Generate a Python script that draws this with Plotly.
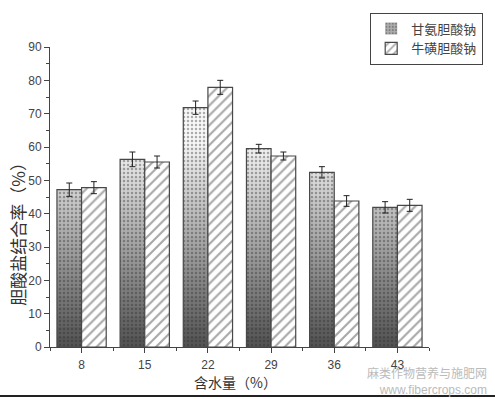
import plotly.graph_objects as go

categories = ["8", "15", "22", "29", "36", "43"]
series_names = ["甘氨胆酸钠", "牛磺胆酸钠"]
glycocholate = [47.2, 56.3, 71.8, 59.5, 52.4, 41.9]
glycocholate_err = [2.0, 2.2, 2.0, 1.3, 1.7, 1.7]
taurocholate = [47.8, 55.5, 77.9, 57.3, 43.8, 42.5]
taurocholate_err = [1.8, 1.8, 2.1, 1.2, 1.6, 1.8]
y_ticks = [0, 10, 20, 30, 40, 50, 60, 70, 80, 90]

xpos = list(range(len(categories)))
W = 0.39
fig = go.Figure()

# gradient bands for series 1 (dark bottom -> light top), dotted pattern
band = 3
nb = 30
def band_color(v):
    t = min(max(v / 62.0, 0), 1)
    c = int(80 + t * (248 - 80))
    return f"rgb({c},{c},{c})"

legend_band = 11
for k in range(nb):
    lo, hi = k * band, (k + 1) * band
    hs = [max(0.0, min(v, hi) - lo) for v in glycocholate]
    if max(hs) <= 0:
        continue
    col = band_color(lo + band / 2)
    fig.add_trace(go.Bar(
        x=xpos, y=hs, base=[lo] * len(hs), width=W, offset=-W,
        marker=dict(color=col, line=dict(width=0),
                    pattern=dict(shape=".", bgcolor=col, fgcolor="rgba(45,45,45,0.75)",
                                 size=4, solidity=0.3)),
        name=series_names[0], showlegend=(k == legend_band), hoverinfo="skip",
    ))

# outline + error bars series 1
fig.add_trace(go.Bar(
    x=xpos, y=glycocholate, width=W, offset=-W,
    marker=dict(color="rgba(0,0,0,0)", line=dict(color="#484848", width=1.2)),
    error_y=dict(type="data", array=glycocholate_err, color="#222", thickness=1, width=3),
    showlegend=False,
))

# series 2 hatched
fig.add_trace(go.Bar(
    x=xpos, y=taurocholate, width=W, offset=0,
    name=series_names[1],
    marker=dict(color="white", line=dict(color="#484848", width=1.2),
                pattern=dict(shape="/", bgcolor="white", fgcolor="#505050", size=7, solidity=0.3)),
    error_y=dict(type="data", array=taurocholate_err, color="#222", thickness=1, width=3),
))

tickfont = dict(family="Liberation Sans, Arial", size=12, color="#444")
fig.update_layout(
    width=495, height=399,
    margin=dict(l=50, r=63, t=42, b=52),
    paper_bgcolor="white", plot_bgcolor="white",
    barmode="overlay",
    showlegend=True,
    legend=dict(x=1.143, xanchor="right", y=1.115, yanchor="top",
                bordercolor="#444", borderwidth=1, bgcolor="white",
                font=dict(family="Noto Sans CJK SC", size=13, color="#444"),
                tracegroupgap=0, itemwidth=30, traceorder="normal"),
    xaxis=dict(range=[-0.5, len(categories) - 0.5], tickvals=xpos, ticktext=categories,
               showline=True, linecolor="#444", linewidth=1, ticks="outside", ticklen=5,
               tickcolor="#444", showgrid=False, zeroline=False, tickfont=tickfont,
               ticklabelstandoff=2,
               minor=dict(tick0=0.5, dtick=1, ticks="outside", ticklen=3, tickcolor="#444")),
    yaxis=dict(range=[0, 90], tickvals=y_ticks, showline=True, linecolor="#444", linewidth=1,
               ticks="outside", ticklen=5, tickcolor="#444", showgrid=False, zeroline=False,
               tickfont=tickfont,
               minor=dict(dtick=5, ticks="outside", ticklen=3, tickcolor="#444")),
)

fig.add_annotation(text="胆酸盐结合率（%）", textangle=-90, xref="paper", yref="paper",
                   x=-0.088, y=0.39, xanchor="center", yanchor="middle", showarrow=False,
                   font=dict(family="Noto Sans CJK SC", size=17, color="#333"))
fig.add_annotation(text="含水量（%）", xref="paper", yref="paper",
                   x=0.49, y=-0.118, xanchor="center", yanchor="middle", showarrow=False,
                   font=dict(family="Noto Sans CJK SC", size=14, color="#333"))
fig.add_annotation(text="麻类作物营养与施肥网<br><span style='font-family:Liberation Sans'>www.fibercrops.com</span>",
                   xref="paper", yref="paper", align="right",
                   x=1.156, y=-0.169, xanchor="right", yanchor="bottom", showarrow=False,
                   borderpad=0,
                   font=dict(family="Noto Sans CJK SC", size=12, color="#bbb"))
fig.add_shape(type="line", xref="paper", yref="paper", x0=-0.14, x1=1.18, y0=-0.163, y1=-0.163,
              line=dict(color="#222", width=2))

fig.write_html("out.html")
